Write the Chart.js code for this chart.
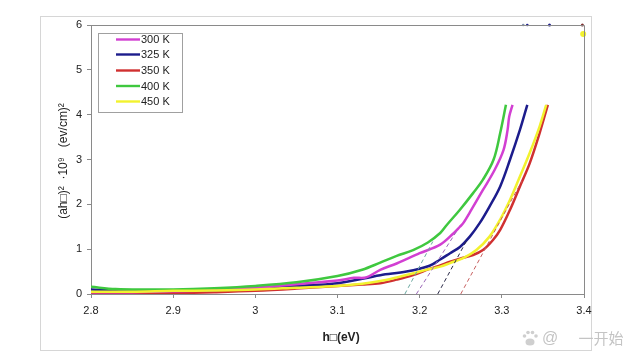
<!DOCTYPE html>
<html>
<head>
<meta charset="utf-8">
<script src="https://cdn.jsdelivr.net/npm/chart.js@4.4.1/dist/chart.umd.min.js"></script>
<style>
  html, body { margin: 0; padding: 0; background: #fff; }
  canvas { display: block; }
</style>
</head>
<body>
<canvas id="bandGapChart" width="640" height="361"></canvas>
<script>
// ---- data ----
const seriesLabels = ["300 K", "325 K", "350 K", "400 K", "450 K"];
const seriesColors = ["#d23fd2", "#1c1c8c", "#d03030", "#3fc83f", "#f2f22e"];

const energy300 = [2.80, 2.85, 2.90, 2.95, 3.00, 3.05, 3.10, 3.12, 3.135, 3.152, 3.172, 3.200, 3.225, 3.241, 3.249, 3.253, 3.263, 3.277, 3.291, 3.302, 3.307, 3.309, 3.313];
const abs300 = [0.04, 0.04, 0.06, 0.09, 0.14, 0.22, 0.30, 0.36, 0.37, 0.54, 0.68, 0.91, 1.10, 1.35, 1.50, 1.58, 1.88, 2.32, 2.76, 3.21, 3.66, 3.96, 4.22];

const energy325 = [2.80, 2.84, 2.90, 2.95, 3.00, 3.05, 3.10, 3.152, 3.184, 3.212, 3.225, 3.237, 3.249, 3.261, 3.273, 3.285, 3.298, 3.310, 3.322, 3.331];
const abs325 = [0.10, 0.07, 0.07, 0.09, 0.13, 0.18, 0.24, 0.42, 0.50, 0.63, 0.77, 0.91, 1.05, 1.28, 1.58, 1.95, 2.40, 3.00, 3.66, 4.22];

const energy350 = [2.80, 2.85, 2.90, 2.95, 3.00, 3.05, 3.10, 3.13, 3.152, 3.172, 3.192, 3.212, 3.225, 3.237, 3.249, 3.265, 3.277, 3.289, 3.298, 3.310, 3.322, 3.334, 3.346, 3.356];
const abs350 = [0.01, 0.01, 0.02, 0.04, 0.07, 0.12, 0.18, 0.21, 0.24, 0.32, 0.42, 0.56, 0.64, 0.72, 0.79, 0.87, 0.98, 1.20, 1.43, 1.88, 2.40, 2.92, 3.59, 4.22];

const energy400 = [2.80, 2.83, 2.87, 2.90, 2.95, 3.00, 3.05, 3.10, 3.13, 3.152, 3.172, 3.192, 3.210, 3.225, 3.233, 3.249, 3.265, 3.277, 3.290, 3.298, 3.305];
const abs400 = [0.16, 0.11, 0.10, 0.10, 0.13, 0.18, 0.26, 0.40, 0.54, 0.70, 0.85, 0.98, 1.15, 1.36, 1.54, 1.88, 2.25, 2.55, 3.00, 3.59, 4.22];

const energy450 = [2.80, 2.85, 2.90, 2.95, 3.00, 3.05, 3.10, 3.13, 3.152, 3.172, 3.19, 3.21, 3.225, 3.237, 3.253, 3.269, 3.285, 3.298, 3.310, 3.322, 3.334, 3.346, 3.354];
const abs450 = [0.05, 0.05, 0.07, 0.08, 0.10, 0.14, 0.18, 0.23, 0.29, 0.37, 0.45, 0.55, 0.61, 0.69, 0.80, 0.98, 1.28, 1.66, 2.10, 2.62, 3.15, 3.74, 4.22];

// dashed extrapolation lines (start and end of each)
const tangentX = [[3.182, 3.216], [3.196, 3.245], [3.222, 3.258], [3.250, 3.324]];
const tangentY = [[0, 1.17], [0, 1.40], [0, 1.22], [0, 2.51]];
const tangentColors = ["#6aa8a0", "#9a66b8", "#2a2a48", "#c86060"];

// stray marks at the top edge
const topMarkX = [3.326, 3.331, 3.358, 3.398, 3.399];
const topMarkY = [6.0, 6.0, 6.0, 6.0, 5.8];
const topMarkColors = ["#8090b0", "#1c1c8c", "#1c1c8c", "#803030", "#f2f22e"];

const xTicks = [2.8, 2.9, 3.0, 3.1, 3.2, 3.3, 3.4];
const yTicks = [0, 1, 2, 3, 4, 5, 6];

const xTitle = "h\u25A1(eV)";
const yTitle = "(ah\u25A1)\u00B2  \u00B710\u2079   (ev/cm)\u00B2";

function toPoints(xs, ys) {
  return xs.map((x, i) => ({ x: x, y: ys[i] }));
}

const curves = [
  [energy300, abs300], [energy325, abs325], [energy350, abs350],
  [energy400, abs400], [energy450, abs450]
];

const datasets = [];
tangentX.forEach((xs, i) => {
  datasets.push({
    data: toPoints(xs, tangentY[i]),
    borderColor: tangentColors[i],
    borderWidth: 1,
    borderDash: [4, 3],
    pointRadius: 0
  });
});
// draw order: 450 first so red sits over yellow as in the picture
[4, 3, 0, 1, 2].forEach(i => {
  datasets.push({
    label: seriesLabels[i],
    data: toPoints(curves[i][0], curves[i][1]),
    borderColor: seriesColors[i],
    borderWidth: 2.5,
    pointRadius: 0,
    tension: 0.35
  });
});
datasets.push({
  data: toPoints(topMarkX, topMarkY),
  showLine: false,
  pointRadius: [1.3, 1.3, 1.5, 1.5, 3],
  pointBackgroundColor: topMarkColors,
  pointBorderWidth: 0,
  clip: false
});

// ---- frame, titles, legend, watermark ----
const decorPlugin = {
  id: "decor",
  beforeDraw(chart) {
    const ctx = chart.ctx;
    ctx.save();
    ctx.fillStyle = "#ffffff";
    ctx.fillRect(0, 0, chart.width, chart.height);
    ctx.strokeStyle = "#d6d6d6";
    ctx.lineWidth = 1;
    ctx.strokeRect(40.5, 16.5, 551, 334);
    ctx.restore();
  },
  afterDraw(chart) {
    const ctx = chart.ctx;
    const a = chart.chartArea;
    ctx.save();
    // plot border
    ctx.strokeStyle = "#8a8a8a";
    ctx.lineWidth = 1;
    ctx.beginPath();
    ctx.moveTo(a.left, a.top + 0.5);
    ctx.lineTo(a.right + 0.5, a.top + 0.5);
    ctx.lineTo(a.right + 0.5, a.bottom);
    ctx.stroke();

    // axis titles
    ctx.fillStyle = "#222";
    ctx.textAlign = "center";
    ctx.textBaseline = "middle";
    ctx.font = "bold 12px 'Liberation Sans', Arial, sans-serif";
    ctx.fillText(xTitle, 341, 338);
    ctx.save();
    ctx.translate(64, 161);
    ctx.rotate(-Math.PI / 2);
    ctx.font = "12px 'Liberation Sans', Arial, sans-serif";
    ctx.fillText(yTitle, 0, 0);
    ctx.restore();

    // legend box
    ctx.fillStyle = "#fff";
    ctx.fillRect(98, 33, 84, 79);
    ctx.strokeStyle = "#a0a0a0";
    ctx.strokeRect(98.5, 33.5, 84, 79);
    const rowY = [39.5, 54.5, 70.5, 86, 101.5];
    ctx.font = "11px 'Liberation Sans', Arial, sans-serif";
    ctx.textAlign = "left";
    seriesLabels.forEach((lab, i) => {
      ctx.strokeStyle = seriesColors[i];
      ctx.lineWidth = 2.4;
      ctx.beginPath();
      ctx.moveTo(116, rowY[i]);
      ctx.lineTo(140, rowY[i]);
      ctx.stroke();
      ctx.fillStyle = "#222";
      ctx.fillText(lab, 141, rowY[i] + 0.5);
    });

    // watermark: paw, @, text
    ctx.fillStyle = "#cfcfcf";
    ctx.beginPath();
    ctx.ellipse(530, 342, 4.5, 3.5, 0, 0, Math.PI * 2);
    ctx.fill();
    [[524.5, 336], [528, 332.5], [532.5, 332.5], [536, 336]].forEach(p => {
      ctx.beginPath();
      ctx.arc(p[0], p[1], 1.8, 0, Math.PI * 2);
      ctx.fill();
    });
    ctx.fillStyle = "#c4c4c4";
    ctx.font = "16px 'Liberation Sans', Arial, sans-serif";
    ctx.textAlign = "center";
    ctx.fillText("@", 550, 339);
    ctx.font = "15px 'Noto Sans CJK SC', sans-serif";
    ctx.fillText("\u4E00\u5F00\u59CB", 601, 338);
    ctx.restore();
  }
};

const ctx = document.getElementById("bandGapChart").getContext("2d");
const bandGapChart = new Chart(ctx, {
  type: "line",
  data: { datasets: datasets },
  options: {
    responsive: false,
    animation: false,
    devicePixelRatio: 1,
    layout: { padding: { top: 25, right: 56, left: 0, bottom: 0 } },
    plugins: {
      legend: { display: false },
      tooltip: { enabled: false }
    },
    scales: {
      x: {
        type: "linear",
        min: 2.8,
        max: 3.4,
        afterBuildTicks: s => { s.ticks = xTicks.map(v => ({ value: v })); },
        afterFit: s => { s.height = 67; },
        ticks: {
          color: "#222",
          padding: 6,
          font: { family: "'Liberation Sans', Arial, sans-serif", size: 11 },
          callback: v => String(Number(v.toFixed(1)))
        },
        grid: { drawOnChartArea: false, color: "#8a8a8a", tickLength: 4 },
        border: { color: "#8a8a8a" }
      },
      y: {
        min: 0,
        max: 6,
        afterBuildTicks: s => { s.ticks = yTicks.map(v => ({ value: v })); },
        afterFit: s => { s.width = 91; },
        ticks: {
          color: "#222",
          padding: 5,
          font: { family: "'Liberation Sans', Arial, sans-serif", size: 11 }
        },
        grid: { drawOnChartArea: false, color: "#8a8a8a", tickLength: 4 },
        border: { color: "#8a8a8a" }
      }
    }
  },
  plugins: [decorPlugin]
});
</script>
</body>
</html>
